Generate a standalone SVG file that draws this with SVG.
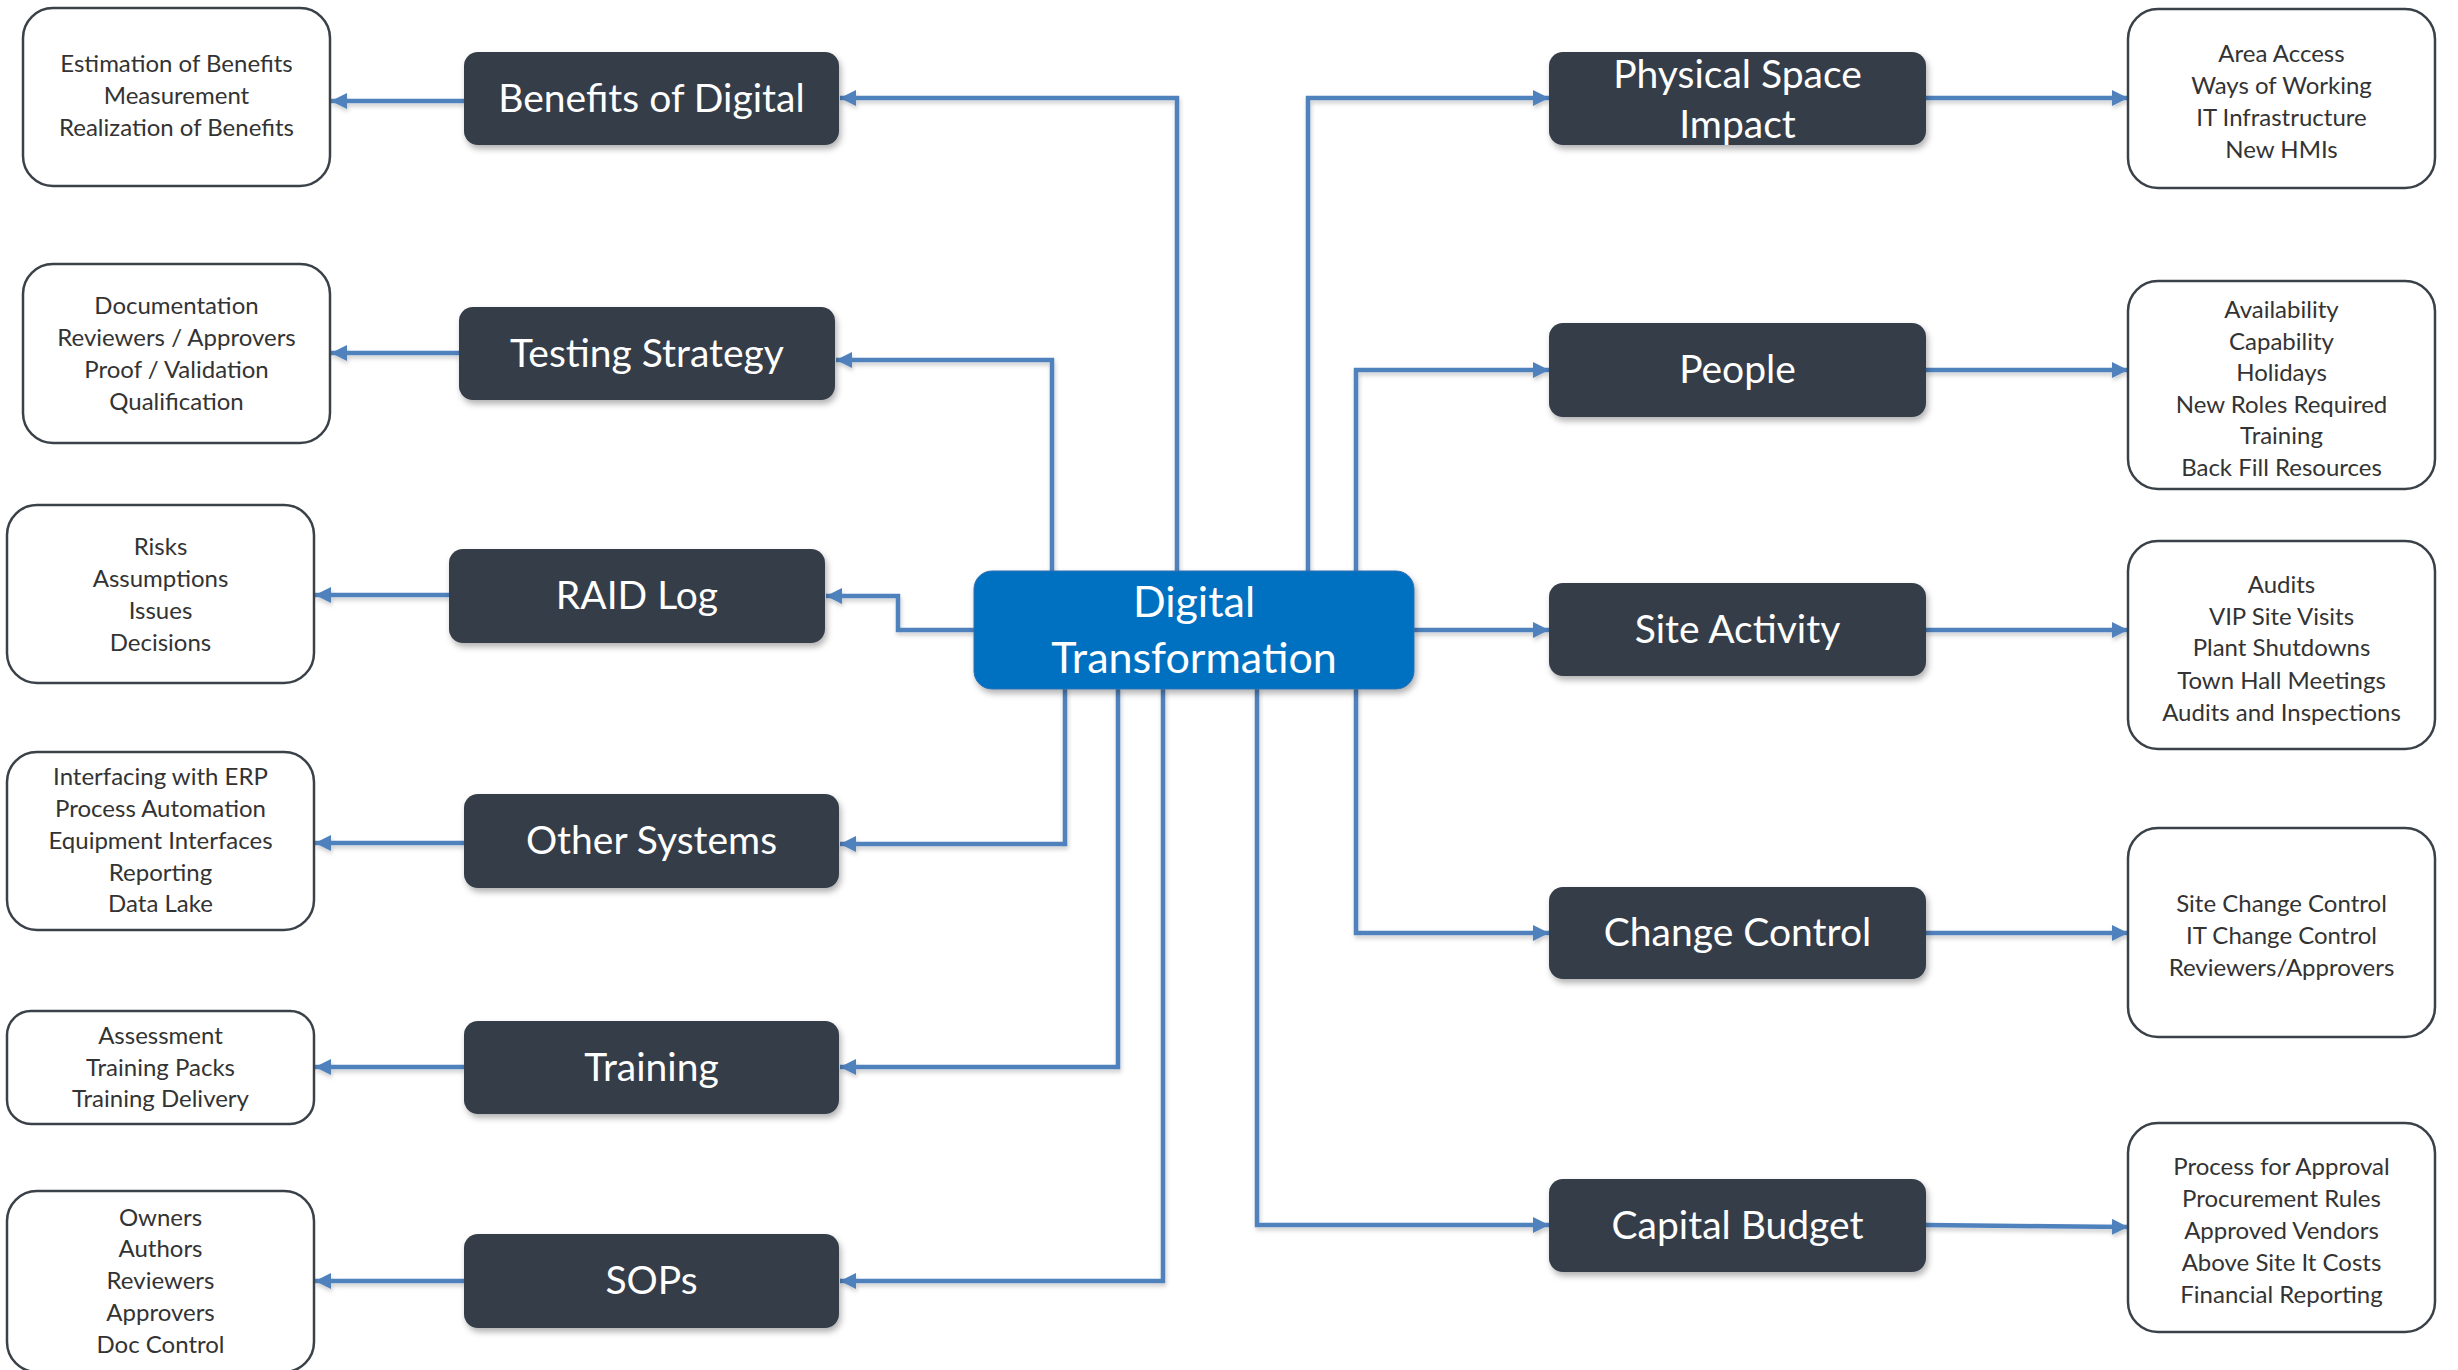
<svg xmlns="http://www.w3.org/2000/svg" width="2458" height="1370" viewBox="0 0 2458 1370">
<defs>
<style>
.bg{fill:#ffffff}
.dark rect{fill:#343e49;filter:url(#sh)}
.dark text{fill:#ffffff;font-family:Lato,"Open Sans",sans-serif;font-size:39px;text-anchor:middle}
.hub rect{fill:#0070c0;stroke:#2f6fb0;stroke-width:1;filter:url(#sh)}
.hub text{fill:#ffffff;font-family:Lato,"Open Sans",sans-serif;font-size:43px;text-anchor:middle}
.det rect{fill:#ffffff;stroke:#3b4148;stroke-width:2.5}
.det text{fill:#333333;font-family:Lato,"Open Sans",sans-serif;font-size:24px;text-anchor:middle}
.con path{fill:none;stroke:#4f81bd;stroke-width:4.5;marker-end:url(#ah)}
</style>
<filter id="sh" x="-10%" y="-20%" width="130%" height="150%">
<feDropShadow dx="2" dy="4" stdDeviation="3" flood-color="#000" flood-opacity="0.3"/>
</filter>
<filter id="lsh" x="-10%" y="-10%" width="120%" height="120%">
<feDropShadow dx="1" dy="3" stdDeviation="2" flood-color="#000" flood-opacity="0.2"/>
</filter>
<marker id="ah" markerUnits="userSpaceOnUse" markerWidth="18" markerHeight="18" refX="16" refY="8" orient="auto">
<path d="M0,0 L16,8 L0,16 z" fill="#4f81bd"/>
</marker>
</defs>
<rect class="bg" x="0" y="0" width="2458" height="1370"/>

<g id="connectors" class="con" filter="url(#lsh)">
<path d="M1177,571 V98 H840"/>
<path d="M1052,571 V360 H836"/>
<path d="M974,630 H898 V596 H826"/>
<path d="M1065,688 V844 H840"/>
<path d="M1118,688 V1067 H840"/>
<path d="M1163,688 V1281 H840"/>
<path d="M1308,571 V98 H1549"/>
<path d="M1356,571 V370 H1549"/>
<path d="M1414,630 H1549"/>
<path d="M1356,688 V933 H1549"/>
<path d="M1257,688 V1225 H1549"/>
<path d="M464,101 H331"/>
<path d="M459,353 H331"/>
<path d="M449,595 H315"/>
<path d="M464,843 H315"/>
<path d="M464,1067 H315"/>
<path d="M464,1281 H315"/>
<path d="M1926,98 H2128"/>
<path d="M1926,370 H2128"/>
<path d="M1926,630 H2128"/>
<path d="M1926,933 H2128"/>
<path d="M1926,1225 L2128,1227"/>
</g>

<g id="hub" class="hub">
<rect x="974" y="571" width="440" height="118" rx="18"/>
<text x="1194" y="617">Digital</text>
<text x="1194" y="673">Transformation</text>
</g>

<g id="benefits" class="dark"><rect x="464" y="52" width="375" height="93" rx="14"/><text x="651.5" y="112">Benefits of Digital</text></g>
<g id="testing" class="dark"><rect x="459" y="307" width="376" height="93" rx="14"/><text x="647" y="367">Testing Strategy</text></g>
<g id="raid" class="dark"><rect x="449" y="549" width="376" height="94" rx="14"/><text x="637" y="609">RAID Log</text></g>
<g id="other" class="dark"><rect x="464" y="794" width="375" height="94" rx="14"/><text x="651.5" y="854">Other Systems</text></g>
<g id="training" class="dark"><rect x="464" y="1021" width="375" height="93" rx="14"/><text x="651.5" y="1081">Training</text></g>
<g id="sops" class="dark"><rect x="464" y="1234" width="375" height="94" rx="14"/><text x="651.5" y="1294">SOPs</text></g>

<g id="physical" class="dark"><rect x="1549" y="52" width="377" height="93" rx="14"/><text x="1737.5" y="88">Physical Space</text><text x="1737.5" y="138">Impact</text></g>
<g id="people" class="dark"><rect x="1549" y="323" width="377" height="94" rx="14"/><text x="1737.5" y="383">People</text></g>
<g id="site" class="dark"><rect x="1549" y="583" width="377" height="93" rx="14"/><text x="1737.5" y="643">Site Activity</text></g>
<g id="change" class="dark"><rect x="1549" y="887" width="377" height="92" rx="14"/><text x="1737.5" y="946">Change Control</text></g>
<g id="capital" class="dark"><rect x="1549" y="1179" width="377" height="93" rx="14"/><text x="1737.5" y="1239">Capital Budget</text></g>

<g id="d-benefits" class="det"><rect x="23" y="8" width="307" height="178" rx="30"/>
<text x="176.5" y="72">Estimation of Benefits</text><text x="176.5" y="104">Measurement</text><text x="176.5" y="136">Realization of Benefits</text></g>
<g id="d-testing" class="det"><rect x="23" y="264" width="307" height="179" rx="30"/>
<text x="176.5" y="314">Documentation</text><text x="176.5" y="346">Reviewers / Approvers</text><text x="176.5" y="378">Proof / Validation</text><text x="176.5" y="410">Qualification</text></g>
<g id="d-raid" class="det"><rect x="7" y="505" width="307" height="178" rx="30"/>
<text x="160.5" y="555">Risks</text><text x="160.5" y="587">Assumptions</text><text x="160.5" y="619">Issues</text><text x="160.5" y="651">Decisions</text></g>
<g id="d-other" class="det"><rect x="7" y="752" width="307" height="178" rx="30"/>
<text x="160.5" y="785">Interfacing with ERP</text><text x="160.5" y="817">Process Automation</text><text x="160.5" y="849">Equipment Interfaces</text><text x="160.5" y="881">Reporting</text><text x="160.5" y="912">Data Lake</text></g>
<g id="d-training" class="det"><rect x="7" y="1011" width="307" height="113" rx="24"/>
<text x="160.5" y="1044">Assessment</text><text x="160.5" y="1076">Training Packs</text><text x="160.5" y="1107">Training Delivery</text></g>
<g id="d-sops" class="det"><rect x="7" y="1191" width="307" height="181" rx="30"/>
<text x="160.5" y="1226">Owners</text><text x="160.5" y="1257">Authors</text><text x="160.5" y="1289">Reviewers</text><text x="160.5" y="1321">Approvers</text><text x="160.5" y="1353">Doc Control</text></g>

<g id="d-physical" class="det"><rect x="2128" y="9" width="307" height="179" rx="30"/>
<text x="2281.5" y="62">Area Access</text><text x="2281.5" y="94">Ways of Working</text><text x="2281.5" y="126">IT Infrastructure</text><text x="2281.5" y="158">New HMIs</text></g>
<g id="d-people" class="det"><rect x="2128" y="281" width="307" height="208" rx="30"/>
<text x="2281.5" y="318">Availability</text><text x="2281.5" y="350">Capability</text><text x="2281.5" y="381">Holidays</text><text x="2281.5" y="413">New Roles Required</text><text x="2281.5" y="444">Training</text><text x="2281.5" y="476">Back Fill Resources</text></g>
<g id="d-site" class="det"><rect x="2128" y="541" width="307" height="208" rx="30"/>
<text x="2281.5" y="593">Audits</text><text x="2281.5" y="625">VIP Site Visits</text><text x="2281.5" y="656">Plant Shutdowns</text><text x="2281.5" y="689">Town Hall Meetings</text><text x="2281.5" y="721">Audits and Inspections</text></g>
<g id="d-change" class="det"><rect x="2128" y="828" width="307" height="209" rx="30"/>
<text x="2281.5" y="912">Site Change Control</text><text x="2281.5" y="944">IT Change Control</text><text x="2281.5" y="976">Reviewers/Approvers</text></g>
<g id="d-capital" class="det"><rect x="2128" y="1123" width="307" height="209" rx="30"/>
<text x="2281.5" y="1175">Process for Approval</text><text x="2281.5" y="1207">Procurement Rules</text><text x="2281.5" y="1239">Approved Vendors</text><text x="2281.5" y="1271">Above Site It Costs</text><text x="2281.5" y="1303">Financial Reporting</text></g>
</svg>
